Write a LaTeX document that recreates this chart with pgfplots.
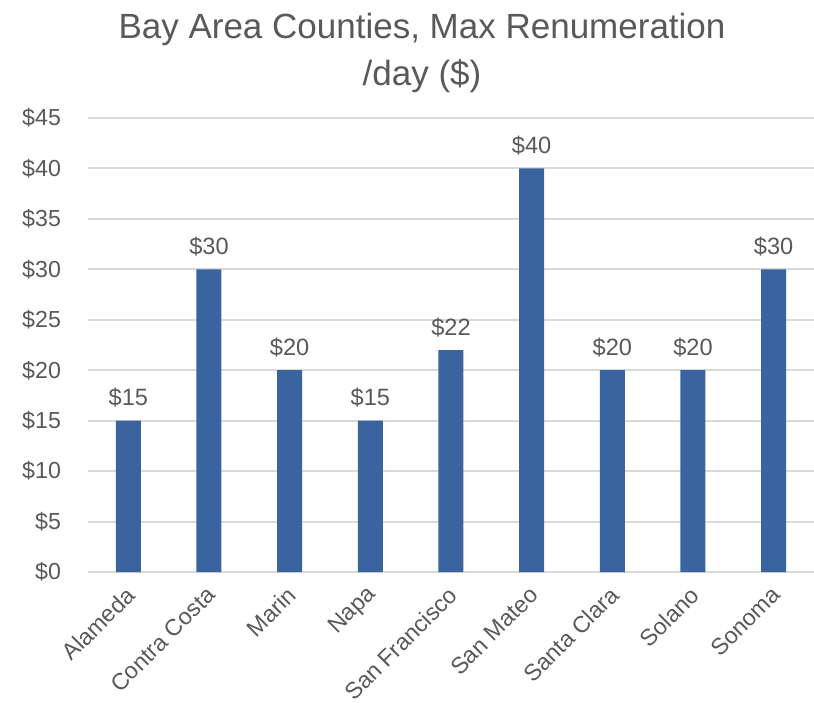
\documentclass[border=0pt]{standalone}
\usepackage{fontspec}
\setmainfont{Liberation Sans}
\usepackage{pgfplots}
\pgfplotsset{compat=1.18}
\definecolor{barblue}{HTML}{3A64A0}
\definecolor{txtgray}{HTML}{595959}
\definecolor{gridgray}{HTML}{D9D9D9}
\begin{document}
\begin{tikzpicture}
\useasboundingbox (-44pt,-65pt) rectangle (363pt,286pt);
\begin{axis}[
  at={(0,0)}, anchor=south west,
  scale only axis, width=363pt, height=227pt,
  xmin=-0.5, xmax=8.5, ymin=0, ymax=45,
  xtick={0,...,8},
  xticklabels={Alameda,Contra Costa,Marin,Napa,San Francisco,San Mateo,Santa Clara,Solano,Sonoma},
  ytick={0,5,...,45},
  yticklabel={\$\pgfmathprintnumber{\tick}},
  /pgf/number format/assume math mode=true,
  ymajorgrids, grid style={gridgray, line width=1pt},
  axis line style={draw=none},
  major tick length=0pt,
  tick label style={font=\fontsize{11.6}{13}\selectfont, text=txtgray},
  yticklabel style={xshift=-10pt},
  xticklabel style={rotate=45, anchor=east, xshift=-2.5pt, yshift=-7.5pt},
  ybar, bar width=12.5pt,
  nodes near coords={\$\pgfmathprintnumber{\pgfplotspointmeta}},
  nodes near coords style={font=\fontsize{11.8}{13}\selectfont, text=txtgray, anchor=south, yshift=3pt},
]
\addplot[fill=barblue, draw=none] coordinates {(0,15) (1,30) (2,20) (3,15) (4,22) (5,40) (6,20) (7,20) (8,30)};
\end{axis}
\node[anchor=north, align=center, text=txtgray, font=\fontsize{17.5}{23.5}\selectfont] at (167pt,283pt) {Bay Area Counties, Max Renumeration\\/day (\$)};
\end{tikzpicture}
\end{document}
